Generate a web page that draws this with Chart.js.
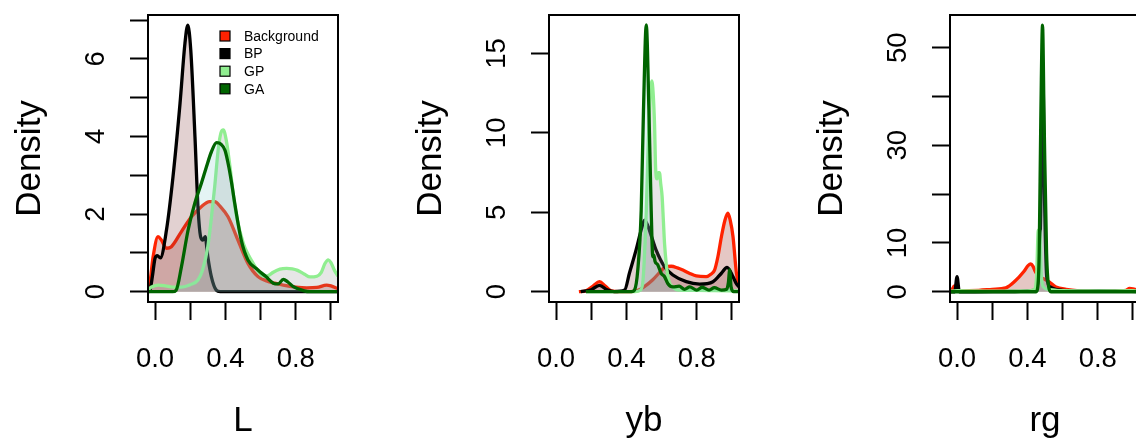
<!DOCTYPE html>
<html>
<head>
<meta charset="utf-8">
<script src="https://cdn.jsdelivr.net/npm/chart.js@4.4.1/dist/chart.umd.min.js"></script>
<style>
  html, body { margin: 0; padding: 0; background: #fff; overflow: hidden; }
  body { width: 1136px; height: 443px; position: relative; }
  canvas { position: absolute; top: 0; }
</style>
</head>
<body>
<canvas id="chartL" width="401" height="443" style="left:0px"></canvas>
<canvas id="chartYb" width="401" height="443" style="left:401px"></canvas>
<canvas id="chartRg" width="401" height="443" style="left:802px"></canvas>
<script>
// series names + colours (same for all three panels)
const seriesNames = ['Background', 'BP', 'GP', 'GA']
const lineColors = ['#ff2200', '#000000', '#90ee90', '#006400']
const fillColors = ['rgba(170,70,60,0.3)', 'rgba(140,70,70,0.25)', 'rgba(128,128,128,0.2)', 'rgba(120,200,200,0.2)']

// x axis ticks (shared)
const xTicks = [0, 0.2, 0.4, 0.6, 0.8, 1.0]
const xTickLabels = ['0.0', '', '0.4', '', '0.8', '']

// ---- panel L : [x, density]
const lBackground = [[-0.04,0.15],[-0.03,0.22],[-0.011,0.9],[0.017,1.42],[0.036,1.33],[0.065,1.12],[0.093,1.16],[0.15,1.55],[0.207,1.93],[0.263,2.19],[0.31,2.32],[0.34,2.32],[0.37,2.2],[0.415,1.93],[0.471,1.33],[0.528,0.73],[0.585,0.39],[0.634,0.28],[0.68,0.22],[0.729,0.17],[0.8,0.12],[0.862,0.1],[0.92,0.11],[0.975,0.17],[1.0,0.15],[1.04,0.08]]
const lBP = [[-0.04,0],[-0.03,0.02],[-0.015,0.4],[0.0,0.86],[0.013,0.93],[0.03,0.87],[0.065,1.59],[0.102,2.96],[0.142,4.85],[0.17,6.4],[0.186,6.87],[0.203,6.23],[0.227,3.99],[0.244,2.19],[0.259,1.42],[0.272,1.33],[0.285,1.42],[0.3,0.9],[0.32,0.39],[0.348,0.04],[0.37,0],[1.04,0]]
const lGP = [[-0.04,0.05],[-0.02,0.12],[0.02,0.17],[0.06,0.15],[0.1,0.12],[0.15,0.12],[0.2,0.18],[0.244,0.3],[0.27,0.56],[0.3,1.16],[0.319,1.85],[0.339,2.7],[0.36,3.7],[0.375,4.1],[0.388,4.17],[0.405,3.9],[0.426,3.22],[0.445,2.5],[0.464,1.93],[0.502,1.24],[0.53,0.95],[0.559,0.72],[0.59,0.5],[0.616,0.4],[0.645,0.42],[0.672,0.5],[0.71,0.58],[0.748,0.6],[0.78,0.59],[0.81,0.55],[0.85,0.45],[0.881,0.38],[0.92,0.4],[0.945,0.5],[0.965,0.72],[0.985,0.82],[1.0,0.75],[1.02,0.55],[1.04,0.4]]
const lGA = [[-0.04,0],[0.1,0],[0.12,0.04],[0.15,0.64],[0.188,1.59],[0.226,2.28],[0.263,2.79],[0.291,3.2],[0.32,3.6],[0.35,3.84],[0.375,3.8],[0.398,3.64],[0.42,3.2],[0.436,2.78],[0.453,2.28],[0.49,1.33],[0.528,0.82],[0.585,0.56],[0.63,0.39],[0.672,0.22],[0.7,0.2],[0.729,0.32],[0.755,0.25],[0.786,0.13],[0.843,0.03],[0.88,0],[1.04,0]]
const lYTicks = [0, 1, 2, 3, 4, 5, 6, 7]
const lYLabels = ['0', '', '2', '', '4', '', '6', '']

// ---- panel yb
const ybBackground = [[0.13,0],[0.17,0.05],[0.21,0.35],[0.247,0.63],[0.28,0.35],[0.313,0.05],[0.36,0],[0.44,0.02],[0.47,0.1],[0.5,0.3],[0.55,0.75],[0.6,1.35],[0.62,1.57],[0.655,1.6],[0.69,1.5],[0.721,1.36],[0.76,1.15],[0.797,0.99],[0.854,0.95],[0.88,1.1],[0.901,1.36],[0.92,2.2],[0.94,3.46],[0.96,4.5],[0.977,4.94],[0.99,4.5],[1.006,3.46],[1.025,1.2],[1.04,0.4]]
const ybBP = [[0.14,0],[0.2,0.12],[0.247,0.4],[0.29,0.12],[0.33,0],[0.39,0.1],[0.417,1.16],[0.455,2.63],[0.484,3.89],[0.503,4.51],[0.52,4.2],[0.545,3.4],[0.569,2.62],[0.617,1.57],[0.664,1.05],[0.74,0.63],[0.816,0.48],[0.892,0.63],[0.94,1.16],[0.972,1.53],[1.006,0.94],[1.025,0.5],[1.04,0.3]]
const ybGP = [[0.17,0],[0.45,0],[0.48,0.1],[0.495,0.8],[0.513,5.1],[0.522,8.5],[0.531,11.4],[0.544,13.27],[0.552,12.5],[0.56,10.5],[0.566,7.8],[0.574,7.1],[0.582,7.5],[0.588,7.5],[0.595,6.8],[0.603,6.0],[0.61,4.5],[0.617,3.0],[0.636,0.94],[0.664,0.3],[0.7,0.1],[0.8,0.08],[0.9,0.07],[1.04,0.05]]
const ybGA = [[0.17,0],[0.43,0],[0.446,0.1],[0.465,1.4],[0.484,5.1],[0.497,11.4],[0.513,16.8],[0.528,11.4],[0.541,5.1],[0.55,2.2],[0.556,2.3],[0.563,1.9],[0.578,1.7],[0.598,1.15],[0.617,0.94],[0.636,0.5],[0.664,0.3],[0.7,0.35],[0.73,0.15],[0.76,0.3],[0.8,0.1],[0.83,0.28],[0.87,0.1],[0.9,0.25],[0.94,0.1],[0.97,0.15],[0.98,0.6],[0.987,1.37],[0.995,0.3],[1.01,0],[1.04,0]]
const ybYTicks = [0, 5, 10, 15]
const ybYLabels = ['0', '5', '10', '15']

// ---- panel rg
const rgBackground = [[-0.04,0],[-0.03,0.3],[-0.015,1.2],[0.0,0.6],[0.02,0.2],[0.124,0.3],[0.2,0.5],[0.277,0.8],[0.33,2.2],[0.381,4.2],[0.405,5.4],[0.419,5.7],[0.432,5.2],[0.444,4.2],[0.467,3.0],[0.495,2.6],[0.524,2.0],[0.562,1.0],[0.62,0.5],[0.695,0.2],[0.8,0.1],[0.9,0.15],[0.96,0.3],[0.981,0.7],[1.0,0.6],[1.04,0.1]]
const rgBP = [[-0.04,0],[-0.013,0],[0.0,3.1],[0.013,0],[0.1,0],[0.3,0.05],[0.44,0.3],[0.46,2],[0.475,15],[0.487,47],[0.497,20],[0.51,3],[0.53,1.0],[0.56,0.5],[0.6,0.3],[0.7,0.15],[0.8,0.2],[0.9,0.15],[1.04,0.05]]
const rgGP = [[-0.04,0.1],[0.0,0.2],[0.2,0.1],[0.4,0.15],[0.44,0.5],[0.452,3],[0.462,12.6],[0.47,12.6],[0.478,4],[0.49,1],[0.52,0.5],[0.6,0.2],[0.8,0.15],[1.0,0.2],[1.04,0.1]]
const rgGA = [[-0.04,0],[0.45,0],[0.457,0.5],[0.467,7.9],[0.476,35],[0.486,54.6],[0.495,35],[0.509,7.9],[0.524,0.5],[0.535,0],[1.04,0]]
const rgYTicks = [0, 10, 20, 30, 40, 50]
const rgYLabels = ['0', '10', '', '30', '', '50']

const FONT = "'Liberation Sans', Arial, Helvetica, sans-serif"
const TICK_SIZE = 27.5
const TITLE_SIZE = 35

// black frame round the plot region, like R's box()
const boxPlugin = {
    id: 'box',
    afterDatasetsDraw(chart) {
        const { ctx, chartArea: a } = chart
        ctx.save()
        ctx.strokeStyle = '#000'
        ctx.lineWidth = 2
        ctx.strokeRect(a.left, a.top, a.right - a.left, a.bottom - a.top)
        ctx.restore()
    }
}

// small legend in the top right corner (only first panel)
const cornerLegend = {
    id: 'cornerLegend',
    afterDraw(chart, args, opts) {
        if (!opts.show) return;
        const ctx = chart.ctx
        ctx.save()
        ctx.font = '14px ' + FONT
        ctx.textBaseline = 'middle'
        ctx.textAlign = 'left'
        for (let i = 0; i < seriesNames.length; i++) {
            const y = opts.y + i * opts.step
            ctx.fillStyle = lineColors[i]
            ctx.fillRect(opts.x, y - 5, 10, 10)
            ctx.strokeStyle = '#000'
            ctx.lineWidth = 1.2
            ctx.strokeRect(opts.x, y - 5, 10, 10)
            ctx.fillStyle = '#000'
            ctx.fillText(seriesNames[i], opts.x + 24, y + 1)
        }
        ctx.restore()
    }
}

function makeDatasets(curves) {
    return curves.map((pts, i) => ({
        label: seriesNames[i],
        data: pts.map(p => ({ x: p[0], y: p[1] })),
        borderColor: lineColors[i],
        backgroundColor: fillColors[i],
        fill: 'origin',
        borderWidth: 3.3,
        pointRadius: 0,
        cubicInterpolationMode: 'monotone',
        order: curves.length - i // Background drawn first, GA on top
    }))
}

function drawPanel(canvasId, curves, xName, yMin, yMax, yTicks, yLabels, yPad, legend) {
    const tickGrid = { drawOnChartArea: false, drawTicks: true, tickLength: 18, tickWidth: 2, tickColor: '#000' }
    new Chart(document.getElementById(canvasId), {
        type: 'line',
        data: { datasets: makeDatasets(curves) },
        plugins: [boxPlugin, cornerLegend],
        options: {
            responsive: false,
            animation: false,
            layout: { padding: { top: 15, right: 63, left: 0, bottom: 0 } },
            plugins: {
                legend: { display: false },
                tooltip: { enabled: false },
                cornerLegend: { show: legend, x: 220, y: 36, step: 17.6 }
            },
            scales: {
                x: {
                    type: 'linear', min: -0.04, max: 1.04,
                    afterBuildTicks: ax => { ax.ticks = xTicks.map(v => ({ value: v })) },
                    afterFit: ax => { ax.height = 141; ax.paddingLeft = 0; ax.paddingRight = 0 },
                    grid: tickGrid,
                    border: { display: false },
                    ticks: { autoSkip: false, maxRotation: 0, padding: 23, color: '#000', font: { size: TICK_SIZE, family: FONT },
                        callback: (v, i) => xTickLabels[i] },
                    title: { display: true, text: xName, color: '#000', font: { size: TITLE_SIZE, family: FONT }, padding: { top: 0, bottom: 1 } }
                },
                y: {
                    type: 'linear', min: yMin, max: yMax,
                    afterBuildTicks: ax => { ax.ticks = yTicks.map(v => ({ value: v })) },
                    afterFit: ax => { ax.width = 148; ax.paddingTop = 0; ax.paddingBottom = 0 },
                    grid: tickGrid,
                    border: { display: false },
                    ticks: { autoSkip: false, minRotation: 90, maxRotation: 90, crossAlign: 'center', padding: yPad,
                        color: '#000', font: { size: TICK_SIZE, family: FONT }, callback: (v, i) => yLabels[i] },
                    title: { display: true, text: 'Density', color: '#000', font: { size: TITLE_SIZE, family: FONT }, padding: { top: 9, bottom: 0 } }
                }
            }
        }
    })
}

drawPanel('chartL', [lBackground, lBP, lGP, lGA], 'L', -0.265, 7.13, lYTicks, lYLabels, 26, true)
drawPanel('chartYb', [ybBackground, ybBP, ybGP, ybGA], 'yb', -0.65, 17.42, ybYTicks, ybYLabels, 18.5, false)
drawPanel('chartRg', [rgBackground, rgBP, rgGP, rgGA], 'rg', -2.1, 56.7, rgYTicks, rgYLabels, 18.5, false)
</script>
</body>
</html>
